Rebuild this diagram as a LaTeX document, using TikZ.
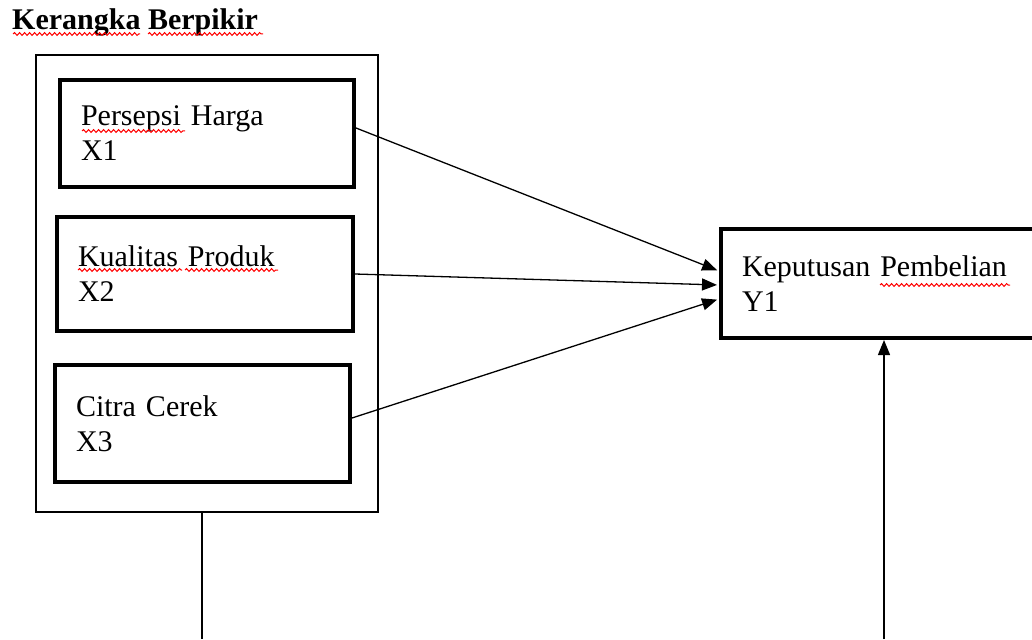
\documentclass[tikz,border=0pt]{standalone}
\usepackage{fontspec}
\setmainfont{Liberation Serif}
\usetikzlibrary{arrows.meta,decorations.pathmorphing}

\begin{document}
\begin{tikzpicture}[x=1pt,y=-1pt,
  varbox/.style={draw,line width=4pt,align=left,inner xsep=21pt,inner ysep=0pt,
    font=\fontsize{30}{35}\selectfont},
  link/.style={line width=1.3pt,-{Triangle[length=15pt,width=12pt]},shorten >=2pt},
  squig/.style={red,line width=1pt,decorate,
    decoration={snake,amplitude=1.4pt,segment length=5pt}}]
\useasboundingbox (0,0) rectangle (1032,639);
\node[anchor=base west,inner sep=0pt,font=\fontsize{30}{35}\selectfont\bfseries] (title) at (12,30) {Kerangka Berpikir};
\node[draw,line width=1.3pt,inner sep=0pt,minimum width=342pt,minimum height=457pt] (frame) at (207,283.5) {};
\node[varbox,minimum width=294pt,minimum height=107pt,text width=252pt] (x1) at (207,133.5) {Persepsi Harga\\X1};
\node[varbox,minimum width=296pt,minimum height=114pt,text width=254pt] (x2) at (205,274) {Kualitas Produk\\X2};
\node[varbox,minimum width=295pt,minimum height=117pt,text width=253pt] (x3) at (202.5,423.5) {Citra Cerek\\X3};
\node[varbox,minimum width=324pt,minimum height=109pt,text width=282pt] (y1) at (883,283.5) {Keputusan Pembelian\\Y1};
\coordinate (lb) at (202,639);
\coordinate (rb) at (884,639);
\draw[link] ([yshift=5.5pt]x1.east) -- ([yshift=12.5pt]y1.west);
\draw[link] ([yshift=0pt]x2.east) -- ([yshift=-1.5pt]y1.west);
\draw[link] ([yshift=5.5pt]x3.east) -- ([yshift=-15.5pt]y1.west);
\draw[line width=1.3pt] (frame.south -| lb) -- (lb);
\draw[link,shorten >=0pt] (rb) -- (rb |- y1.south);
% spelling marks
\draw[squig] (13,34) -- (140,34);
\draw[squig] (148,34) -- (263,34);
\draw[squig] (82,131) -- (185,131);
\draw[squig] (78,270) -- (182,270);
\draw[squig] (185,270) -- (278,270);
\draw[squig] (880,285) -- (1010,285);
\end{tikzpicture}
\end{document}
